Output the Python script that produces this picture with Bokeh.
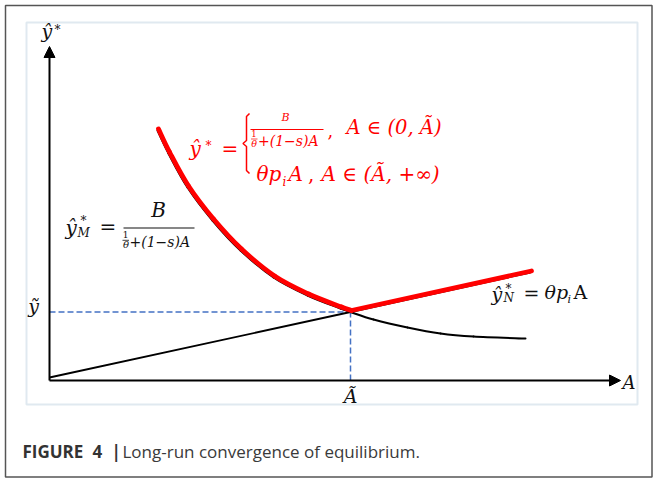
from bokeh.plotting import figure
from bokeh.models import Range1d, Arrow, NormalHead, ColumnDataSource
from bokeh.core.properties import value
from bokeh.embed import file_html
from bokeh.resources import INLINE

# ---- data (diagram units: A along x, y* along y) ----
curve_A = [108, 119, 138, 163, 191, 224, 258, 291, 301, 324, 358, 391, 424, 476]
curve_y = [250, 227, 193, 160, 130, 103, 85, 72, 68.5, 61, 53, 47, 44, 42]
line_A = [0, 301, 481]
line_y = [3, 68.5, 108]
A_TILDE = 301
Y_TILDE = 68.5

# ---- layout constants ----
W, H = 656, 480
X0, Y0 = 49, 380           # screen position of the origin
X_AXIS_END = 571
Y_AXIS_END = 334
SERIF = "DejaVu Serif"
SANS = "Open Sans"
INK = "#111111"
RED = "#ff0000"
BLUE = "#4472c4"
BASE_FIX = 0.44            # baseline correction (fraction of font size)

p = figure(width=W, height=H,
           x_range=Range1d(-X0, W - X0),
           y_range=Range1d(Y0 - H, Y0),
           output_backend="svg", toolbar_location=None,
           x_axis_type=None, y_axis_type=None, min_border=0,
           background_fill_color="white", border_fill_color="white")
p.outline_line_color = None
p.extra_x_ranges = {"rx": Range1d(-X0 - 1, W - X0 - 1)}
p.extra_y_ranges = {"ry": Range1d(Y0 - H - 1.5, Y0 - 1.5)}


def S(sx, sy):
    return sx - X0, Y0 - sy


def txt(sx, sy, s, size, color=INK, style="italic", align="left", font=SERIF):
    x, y = S(sx, sy - BASE_FIX * size)
    p.text(x=[x], y=[y], text=[s], text_font=value(font),
           text_font_size=f"{size}px", text_font_style=style,
           text_color=color, text_align=align, text_baseline="alphabetic")


def seg(sx0, sx1, sy, color=INK, w=1.2):
    x0, y0 = S(sx0, sy)
    x1, _ = S(sx1, sy)
    p.line([x0, x1], [y0, y0], line_color=color, line_width=w)


def smooth(xs, ys):
    """Catmull-Rom style cubic segments through the read points (rendering only)."""
    n = len(xs)
    d = dict(x0=[], y0=[], x1=[], y1=[], cx0=[], cy0=[], cx1=[], cy1=[])
    for i in range(n - 1):
        im, ip = max(i - 1, 0), min(i + 2, n - 1)
        d["x0"].append(xs[i]); d["y0"].append(ys[i])
        d["x1"].append(xs[i + 1]); d["y1"].append(ys[i + 1])
        d["cx0"].append(xs[i] + (xs[i + 1] - xs[im]) / 6)
        d["cy0"].append(ys[i] + (ys[i + 1] - ys[im]) / 6)
        d["cx1"].append(xs[i + 1] - (xs[ip] - xs[i]) / 6)
        d["cy1"].append(ys[i + 1] - (ys[ip] - ys[i]) / 6)
    return d


# outer border and inner light frame
ol, ot = S(5, 5)
orr, ob = S(651.5, 476.5)
p.quad(left=[ol], right=[orr], top=[ot], bottom=[ob], fill_color=None,
       line_color="#555555", line_width=1.5)
fl, ft = S(26, 22)
fr, fb = S(637, 404)
p.quad(left=[fl], right=[fr], top=[ft], bottom=[fb], fill_color=None,
       line_color="#e0e9f0", line_width=2)

# guide lines
p.line([0, A_TILDE], [Y_TILDE, Y_TILDE], line_color=BLUE, line_width=1.5, line_dash="6 3")
p.line([A_TILDE, A_TILDE], [0, Y_TILDE], line_color=BLUE, line_width=1.5, line_dash="6 3")

# axes
p.add_layout(Arrow(end=NormalHead(size=11, fill_color="black", line_color="black", line_width=1),
                   x_start=0, y_start=0, x_end=X_AXIS_END, y_end=0,
                   line_width=2, line_color="black"))
p.add_layout(Arrow(end=NormalHead(size=11, fill_color="black", line_color="black", line_width=1),
                   x_start=0, y_start=0, x_end=0, y_end=Y_AXIS_END,
                   line_width=2, line_color="black"))

# curves
full = smooth(curve_A, curve_y)
k = curve_A.index(A_TILDE)
left = {key: vals[:k] for key, vals in full.items()}
p.bezier(source=ColumnDataSource(full), x0="x0", y0="y0", x1="x1", y1="y1",
         cx0="cx0", cy0="cy0", cx1="cx1", cy1="cy1",
         line_color="black", line_width=2, line_cap="round")
p.line(line_A, line_y, line_color="black", line_width=1.8)
p.bezier(source=ColumnDataSource(left), x0="x0", y0="y0", x1="x1", y1="y1",
         cx0="cx0", cy0="cy0", cx1="cx1", cy1="cy1",
         line_color=RED, line_width=4.8, line_cap="round",
         x_range_name="rx", y_range_name="ry")
p.line(line_A[1:], line_y[1:], line_color=RED, line_width=4.8, line_cap="round",
       x_range_name="rx", y_range_name="ry")

# axis labels
txt(41, 38.5, "ŷ", 19)
txt(54, 35, "*", 12, style="normal")
txt(622, 390, "A", 18)
txt(33, 314, "ỹ", 19, align="center")
txt(X0 + A_TILDE, 403.5, "Ã", 19, align="center")

# black formula (left)
txt(65, 236, "ŷ", 20)
txt(80, 226, "*", 12, style="normal")
txt(77, 237.5, "M", 12)
txt(99, 235, "=", 20, style="normal")
seg(123, 194, 227.5)
txt(158, 218, "B", 20, align="center")
txt(125, 238, "1", 9, style="normal", align="center")
seg(122, 128.5, 239.8, w=0.8)
txt(125.5, 248.5, "θ", 10, align="center")
txt(129, 248, "+(1−s)A", 14)

# red formula
txt(189, 157, "ŷ", 20, color=RED)
txt(205, 151, "*", 12, color=RED, style="normal")
txt(221, 157.5, "=", 20, color=RED, style="normal")
bx = [S(249, 0)[0], S(246, 0)[0], S(246, 0)[0], S(242.5, 0)[0],
      S(246, 0)[0], S(246, 0)[0], S(249, 0)[0]]
by = [S(0, 113)[1], S(0, 116)[1], S(0, 140)[1], S(0, 143)[1],
      S(0, 146)[1], S(0, 170)[1], S(0, 173)[1]]
p.line(bx, by, line_color=RED, line_width=1.5)
txt(285, 122, "B", 11, color=RED, align="center")
seg(250, 323, 129, color=RED, w=1.0)
txt(253.5, 137, "1", 8.5, color=RED, style="normal", align="center")
seg(250.5, 257, 138.5, color=RED, w=0.7)
txt(253.5, 147.5, "θ", 9.5, color=RED, align="center")
txt(257.5, 146.5, "+(1−s)A", 14, color=RED)
txt(327, 137, ",", 18, color=RED, style="normal")
txt(346, 136, "A ∈ (0, Ã)", 19.5, color=RED)
txt(256, 182, "θp", 20, color=RED)
txt(282, 187, "i", 12, color=RED)
txt(288, 182, "A", 20, color=RED)
txt(307.5, 182, ",", 20, color=RED, style="normal")
txt(321, 182, "A ∈ (Ã, +∞)", 20, color=RED)

# black formula (right)
txt(491, 302, "ŷ", 19)
txt(505, 294, "*", 12, style="normal")
txt(503, 302.5, "N", 12)
txt(523, 301, "=", 19, style="normal")
txt(544, 300, "θp", 19)
txt(567, 304, "i", 11)
txt(573, 300, "A", 19, style="normal")

# caption
txt(22, 458.5, "FIGURE", 17, color="#333333", style="bold", font=SANS)
txt(92, 458.5, "4", 17, color="#333333", style="bold", font=SANS)
txt(111, 458.5, "|", 17, color="#333333", style="bold", font=SANS)
txt(122, 458.5, "Long-run convergence of equilibrium.", 17, color="#3a3a3a",
    style="normal", font=SANS)

open("out.html", "w").write(file_html(p, INLINE))
